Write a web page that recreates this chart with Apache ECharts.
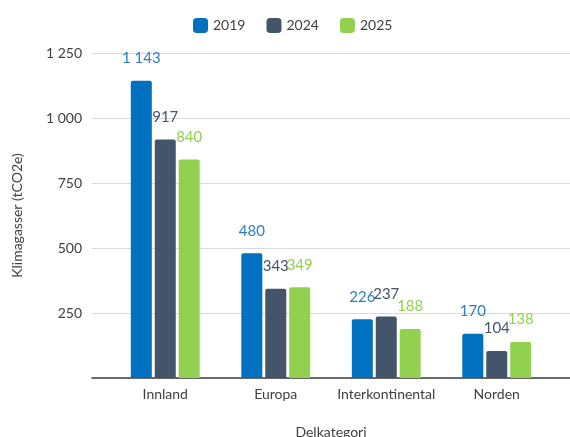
<!DOCTYPE html>
<html>
<head>
<meta charset="utf-8">
<script src="https://cdn.jsdelivr.net/npm/echarts@6/dist/echarts.min.js"></script>
<style>
  html, body { margin: 0; padding: 0; background: #fff; }
  #chart { width: 570px; height: 437px; }
</style>
</head>
<body>
<div id="chart"></div>
<script>
var categories = ['Innland', 'Europa', 'Interkontinental', 'Norden']
var years = ['2019', '2024', '2025']
var values2019 = [1143, 480, 226, 170]
var values2024 = [917, 343, 237, 104]
var values2025 = [840, 349, 188, 138]
var yTicks = [0, 250, 500, 750, 1000, 1250]

var barColors = ['#0070c0', '#44546a', '#92d050']
var labelColors = ['#2e7dc4', '#44546a', '#92d050']
var font = 'Lato, "Open Sans", sans-serif'

// tusenskille med mellomrom, som i originalen
function fmt(v) {
  return String(v).replace(/\B(?=(\d{3})+(?!\d))/g, ' ')
}

var chart = echarts.init(document.getElementById('chart'))

function makeSeries(name, data, i) {
  return {
    name: name,
    type: 'bar',
    xAxisIndex: 1,
    yAxisIndex: 1,
    data: data,
    barWidth: 21,
    barGap: '14%',
    itemStyle: { color: barColors[i], borderRadius: [2, 2, 0, 0] },
    label: {
      show: true,
      position: 'top',
      distance: 15,
      color: labelColors[i],
      fontSize: 15,
      fontFamily: font,
      formatter: function(p) { return fmt(p.value) }
    }
  }
}

chart.setOption({
  animation: false,
  textStyle: { fontFamily: font },
  legend: {
    data: years,
    left: 188,
    top: 13,
    itemWidth: 15,
    itemHeight: 15,
    itemGap: 21,
    icon: 'roundRect',
    textStyle: { fontSize: 14, color: '#404040', fontFamily: font }
  },
  grid: [
    { left: 92, right: 0, top: 53, bottom: 59, outerBoundsMode: 'none', containLabel: false },
    { left: 110, right: 18, top: 53, bottom: 59, outerBoundsMode: 'none', containLabel: false }
  ],
  xAxis: [{
    gridIndex: 0,
    type: 'value',
    min: 0,
    max: 1,
    axisLine: { show: true, onZero: true, lineStyle: { color: '#404040', width: 1.5 } },
    axisTick: { show: false },
    axisLabel: { show: false },
    splitLine: { show: false }
  }, {
    gridIndex: 1,
    type: 'category',
    data: categories,
    axisLine: { show: false },
    axisTick: { show: false },
    axisLabel: { interval: 0, fontSize: 14, color: '#404040', margin: 9, fontFamily: font },
    name: 'Delkategori',
    nameLocation: 'middle',
    nameGap: 47,
    nameTextStyle: { fontSize: 14, color: '#404040', fontFamily: font }
  }],
  yAxis: [{
    gridIndex: 0,
    type: 'value',
    min: yTicks[0],
    max: yTicks[yTicks.length - 1],
    interval: yTicks[1] - yTicks[0],
    axisLine: { show: false },
    axisTick: { show: false },
    axisLabel: {
      fontSize: 14,
      color: '#404040',
      margin: 10,
      fontFamily: font,
      formatter: function(v) { return v === 0 ? '' : fmt(v) }
    },
    splitLine: { lineStyle: { color: '#d9d9d9', width: 1 } },
    name: 'Klimagasser (tCO2e)',
    nameLocation: 'middle',
    nameGap: 68,
    nameTextStyle: { fontSize: 14, color: '#404040', fontFamily: font }
  }, {
    gridIndex: 1,
    type: 'value',
    min: yTicks[0],
    max: yTicks[yTicks.length - 1],
    interval: yTicks[1] - yTicks[0],
    show: false,
    splitLine: { show: false }
  }],
  series: [
    makeSeries(years[0], values2019, 0),
    makeSeries(years[1], values2024, 1),
    makeSeries(years[2], values2025, 2)
  ]
})
</script>
</body>
</html>
